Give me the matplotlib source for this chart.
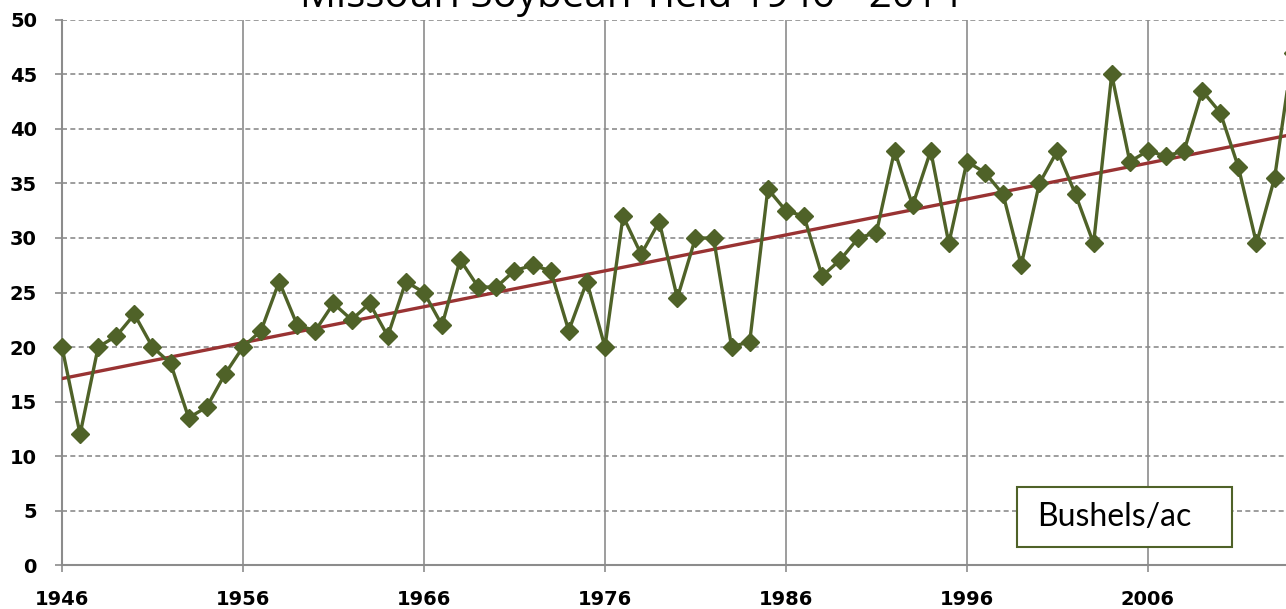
import numpy as np
import matplotlib
matplotlib.use("Agg")
import matplotlib.pyplot as plt
from matplotlib.patches import Rectangle

years = list(range(1946, 2015))
yields = [20, 12, 20, 21, 23, 20, 18.5, 13.5, 14.5, 17.5,
          20, 21.5, 26, 22, 21.5, 24, 22.5, 24, 21, 26,
          25, 22, 28, 25.5, 25.5, 27, 27.5, 27, 21.5, 26,
          20, 32, 28.5, 31.5, 24.5, 30, 30, 20, 20.5, 34.5,
          32.5, 32, 26.5, 28, 30, 30.5, 38, 33, 38, 29.5,
          37, 36, 34, 27.5, 35, 38, 34, 29.5, 45, 37,
          38, 37.5, 38, 43.5, 41.5, 36.5, 29.5, 35.5, 47]
xticks = [1946, 1956, 1966, 1976, 1986, 1996, 2006]
yticks = list(range(0, 51, 5))

green = "#4F6228"
red = "#993333"
gray = "#8C8C8C"

fig = plt.figure(figsize=(12.86, 6.09), dpi=100)
ax = fig.add_axes([0.0482, 0.0722, 0.957, 0.895])

# trend line
coef = np.polyfit(years, yields, 1)
trend = np.polyval(coef, years)
ax.plot(years, trend, color=red, lw=2.4, zorder=3)

ax.plot(years, yields, color=green, lw=2.4, marker="D", markersize=9,
        markeredgecolor=green, markerfacecolor=green, zorder=4, clip_on=False)

ax.set_xlim(1946, 2014)
ax.set_ylim(0, 50)
ax.set_xticks(xticks)
ax.set_yticks(yticks)

ax.grid(axis="x", color=gray, lw=1.2, ls="-")
ax.grid(axis="y", color=gray, lw=1.2, ls=(0, (3, 2)))
ax.set_axisbelow(True)

for s in ["top", "right"]:
    ax.spines[s].set_visible(False)
for s in ["left", "bottom"]:
    ax.spines[s].set_color(gray)
    ax.spines[s].set_linewidth(1.5)

ax.tick_params(axis="both", colors=gray, length=5, width=1.2)
ax.tick_params(axis="x", labelsize=14, labelcolor="black", pad=13)
ax.tick_params(axis="y", labelsize=14, labelcolor="black", pad=13)
for lab in ax.get_xticklabels() + ax.get_yticklabels():
    lab.set_fontweight("bold")

# legend-like box
ax.add_patch(Rectangle((0.7758, 0.033), 0.1746, 0.110, transform=ax.transAxes,
                       fc="white", ec=green, lw=1.5, zorder=5))
ax.text(0.855, 0.088, "Bushels/ac", transform=ax.transAxes, fontsize=23,
        family="Lato", va="center", ha="center", zorder=6)

# title sits mostly above the top edge, as in the cropped original
fig.text(0.49, 0.9885, "Missouri Soybean Yield 1946 - 2014", ha="center",
         va="baseline", fontsize=29, family="Open Sans")

fig.savefig("out.png", dpi=100)
